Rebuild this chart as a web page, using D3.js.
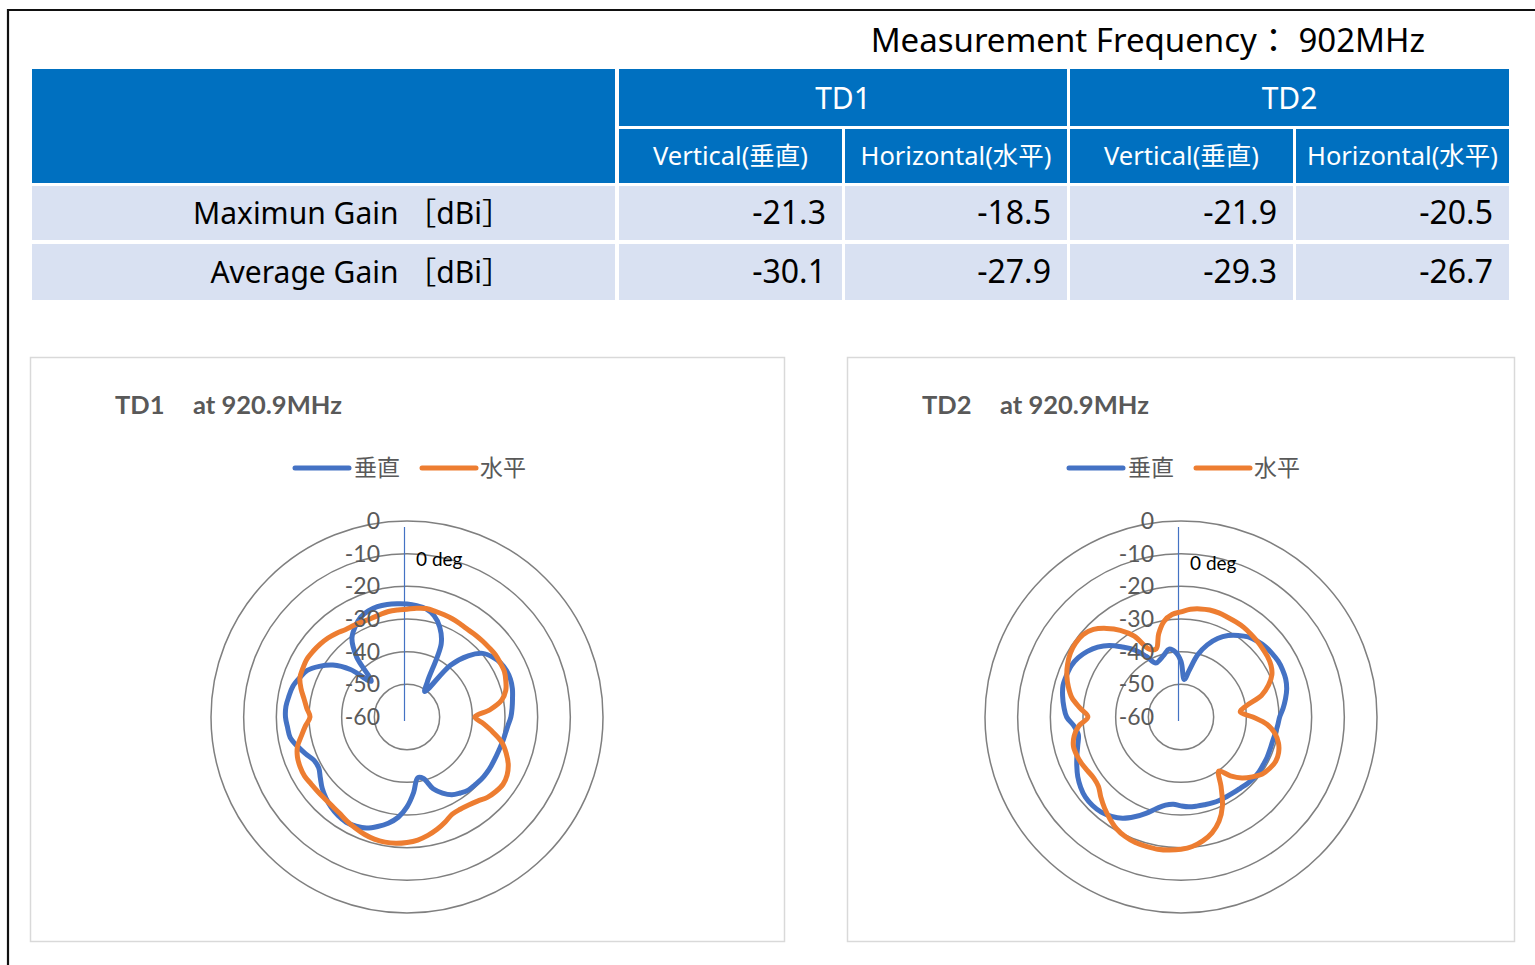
<!DOCTYPE html>
<html><head><meta charset="utf-8">
<script src="https://cdn.jsdelivr.net/npm/d3@7"></script>
<style>body{margin:0;background:#fff;overflow:hidden}</style>
</head><body>
<svg id="c" width="1535" height="965"></svg>
<script>
// ---------------- data ----------------
const angles = d3.range(0, 360, 5); // category angles (deg), clockwise from top
const td1Vertical = [
 -25.4,-25.8,-26.4,-27.9,-30.7,-35.2,-47.5,-50.5,-39.3,-33.5,-29.7,-28.0,
 -26.9,-26.4,-26.3,-26.6,-27.2,-27.7,-28.2,-29.0,-29.5,-29.8,-30.1,-30.2,
 -30.2,-30.2,-30.3,-30.6,-30.8,-31.6,-32.5,-34.3,-36.6,-40.5,-41.1,-36.8,
 -32.5,-29.2,-27.0,-25.3,-23.8,-23.1,-22.8,-23.2,-23.9,-24.9,-26.1,-27.6,
 -28.8,-28.6,-27.0,-25.3,-23.7,-23.3,-22.8,-22.8,-23.3,-23.8,-25.0,-26.3,
 -29.0,-32.3,-37.4,-44.5,-36.0,-30.6,-28.2,-26.3,-25.4,-25.0,-25.0,-25.2];
const td1Horizontal = [
 -27.0,-26.6,-26.3,-26.5,-26.7,-26.9,-27.2,-27.4,-27.3,-27.2,-27.1,-26.9,
 -27.0,-27.1,-27.8,-28.7,-30.6,-34.5,-39.2,-36.5,-33.3,-29.9,-27.7,-25.8,
 -24.6,-24.1,-24.5,-25.2,-26.4,-27.1,-27.4,-27.2,-25.8,-24.4,-23.2,-22.2,
 -21.6,-21.2,-21.1,-21.3,-21.8,-22.5,-23.2,-24.0,-24.4,-24.5,-24.4,-24.2,
 -23.8,-23.9,-24.3,-25.3,-27.2,-28.8,-30.3,-29.2,-28.0,-26.4,-25.1,-24.8,
 -24.6,-24.9,-25.3,-25.8,-26.5,-27.3,-27.6,-27.8,-27.9,-27.6,-27.2,-27.1];
const td2Vertical = [
 -43.0,-48.5,-45.5,-40.3,-36.5,-33.5,-31.2,-29.5,-28.0,-27.1,-26.4,-26.0,
 -25.7,-25.7,-25.9,-26.5,-27.5,-28.6,-29.8,-30.3,-30.7,-31.0,-31.0,-30.9,
 -30.9,-30.8,-30.9,-31.2,-31.6,-31.8,-31.9,-31.9,-32.0,-32.2,-32.3,-32.4,
 -32.8,-33.2,-32.6,-31.0,-28.6,-26.3,-24.2,-22.9,-22.0,-21.7,-21.8,-22.5,
 -23.5,-24.8,-26.1,-27.3,-28.1,-27.2,-25.0,-24.0,-23.2,-22.6,-22.7,-22.9,
 -23.7,-25.0,-26.7,-29.0,-32.0,-34.8,-38.5,-41.8,-41.3,-40.2,-38.9,-40.0];
const td2Horizontal = [
 -27.8,-26.9,-26.4,-26.1,-26.1,-26.3,-26.4,-26.5,-26.8,-27.1,-27.4,-27.7,
 -28.2,-29.3,-31.5,-34.5,-39.5,-41.8,-38.0,-33.5,-30.8,-29.1,-28.2,-28.0,
 -28.6,-29.6,-31.5,-33.6,-36.5,-39.8,-35.5,-30.0,-26.0,-23.3,-21.5,-20.2,
 -19.5,-19.1,-18.9,-19.0,-19.1,-19.6,-20.5,-22.0,-23.6,-25.3,-27.0,-27.4,
 -27.0,-26.4,-26.0,-25.9,-26.8,-28.6,-31.5,-29.0,-26.1,-24.3,-22.8,-21.7,
 -20.9,-20.6,-20.8,-22.1,-24.6,-27.6,-31.4,-37.1,-37.8,-33.6,-30.2,-28.5];

const headline = "Measurement Frequency： 902MHz";
const tableGroups = ["TD1", "TD2"];
const tableSubHeaders = ["Vertical(垂直)", "Horizontal(水平)", "Vertical(垂直)", "Horizontal(水平)"];
const rowLabels = ["Maximun Gain ［dBi］", "Average Gain ［dBi］"];
const maxGain = [-21.3, -18.5, -21.9, -20.5];
const avgGain = [-30.1, -27.9, -29.3, -26.7];
const radialTicks = [0, -10, -20, -30, -40, -50, -60];
const seriesNames = ["垂直", "水平"];
const chartNames = ["TD1", "TD2"];
const chartFreq = "at 920.9MHz";
const zeroLabel = "0 deg";

// ---------------- drawing ----------------
const svg = d3.select("#c");
const fmt = d3.formatLocale({decimal: ".", thousands: ",", grouping: [3], currency: ["", ""], minus: "-"}).format(".1f");
const TXT = "'Noto Sans','Noto Sans CJK JP',sans-serif";
const CHART_TXT = "Lato,'Noto Sans CJK JP',sans-serif";
const BLUE = "#4472C4", ORANGE = "#ED7D31", GREY = "#595959";

// outer frame
svg.append("path").attr("d", "M8,965 V10 H1535").attr("fill", "none").attr("stroke", "#111").attr("stroke-width", 2.2);

// headline
svg.append("text").attr("x", 1425).attr("y", 52).attr("text-anchor", "end")
  .style("font-family", TXT).style("font-size", "33px").attr("fill", "#000").text(headline);

// table
const colL = [619, 845, 1070, 1296], colR = [842, 1067, 1293, 1509];
const HEAD_BG = "#0070C0", ROW_BG = "#D9E1F2";
svg.append("rect").attr("x", 32).attr("y", 69).attr("width", 583).attr("height", 114).attr("fill", HEAD_BG);
tableGroups.forEach((t, i) => {
  const x0 = colL[i * 2], x1 = colR[i * 2 + 1];
  svg.append("rect").attr("x", x0).attr("y", 69).attr("width", x1 - x0).attr("height", 57).attr("fill", HEAD_BG);
  svg.append("text").attr("x", (x0 + x1) / 2).attr("y", 98).attr("dy", "0.35em").attr("text-anchor", "middle")
    .style("font-family", TXT).style("font-size", "30px").attr("fill", "#fff").text(t);
});
tableSubHeaders.forEach((t, i) => {
  svg.append("rect").attr("x", colL[i]).attr("y", 129).attr("width", colR[i] - colL[i]).attr("height", 54).attr("fill", HEAD_BG);
  svg.append("text").attr("x", (colL[i] + colR[i]) / 2).attr("y", 156).attr("dy", "0.35em").attr("text-anchor", "middle")
    .style("font-family", TXT).style("font-size", "25.5px").attr("fill", "#fff").text(t);
});
const rowsY = [[186, 240], [244, 300]];
[maxGain, avgGain].forEach((vals, r) => {
  const [y0, y1] = rowsY[r];
  svg.append("rect").attr("x", 32).attr("y", y0).attr("width", 583).attr("height", y1 - y0).attr("fill", ROW_BG);
  svg.append("text").attr("x", 512).attr("y", (y0 + y1) / 2).attr("dy", "0.35em").attr("text-anchor", "end")
    .style("font-family", TXT).style("font-size", "30px").attr("fill", "#000").text(rowLabels[r]);
  vals.forEach((v, i) => {
    svg.append("rect").attr("x", colL[i]).attr("y", y0).attr("width", colR[i] - colL[i]).attr("height", y1 - y0).attr("fill", ROW_BG);
    svg.append("text").attr("x", colR[i] - 16).attr("y", (y0 + y1) / 2).attr("dy", "0.35em").attr("text-anchor", "end")
      .style("font-family", TXT).style("font-size", "32px").attr("fill", "#000").text(fmt(v));
  });
});

// polar charts
function polar(cfg) {
  const {cx, cy, box, titleX, name, series, zeroY} = cfg;
  svg.append("rect").attr("x", box[0] + 0.5).attr("y", 357.5).attr("width", box[1] - box[0]).attr("height", 584)
    .attr("fill", "#fff").attr("stroke", "#d9d9d9").attr("stroke-width", 1.5);
  const t = svg.append("text").attr("y", 414).style("font-family", CHART_TXT).style("font-size", "25.5px")
    .style("font-weight", "bold").attr("fill", GREY);
  t.append("tspan").attr("x", titleX).text(name);
  t.append("tspan").attr("x", titleX + 78).text(chartFreq);

  // legend
  const legX = [[-112, -58, -53], [15, 69, 73]];
  seriesNames.forEach((s, i) => {
    const [a0, a1, tx] = legX[i];
    svg.append("line").attr("x1", cx + a0).attr("x2", cx + a1).attr("y1", cy - 249).attr("y2", cy - 249)
      .attr("stroke", i ? ORANGE : BLUE).attr("stroke-width", 5).attr("stroke-linecap", "round");
    svg.append("text").attr("x", cx + tx).attr("y", cy - 249).attr("dy", "0.36em")
      .style("font-family", "'Noto Sans CJK JP',sans-serif").style("font-size", "23px").attr("fill", GREY).text(s);
  });

  const g = svg.append("g").attr("transform", `translate(${cx},${cy})`);
  const r = d3.scaleLinear().domain([-60, 0]).range([0, 196]);
  const a = d3.scaleLinear().domain([0, 360]).range([0, 2 * Math.PI]);
  g.selectAll("circle.ring").data(radialTicks.filter(d => d > -60)).join("circle")
    .attr("class", "ring").attr("r", d => r(d)).attr("fill", "none").attr("stroke", "#7f7f7f").attr("stroke-width", 1.5);
  g.append("line").attr("x1", -2.5).attr("x2", -2.5).attr("y1", 4).attr("y2", -190)
    .attr("stroke", BLUE).attr("stroke-width", 1.2);
  g.append("text").attr("x", 9).attr("y", zeroY).attr("dy", "0.35em")
    .style("font-family", CHART_TXT).style("font-size", "19px").attr("fill", "#000").text(zeroLabel);

  const line = d3.lineRadial().angle(d => a(d[0])).radius(d => r(d[1]))
    .curve(d3.curveCatmullRomClosed.alpha(0.5));
  series.forEach((vals, i) => {
    g.append("path").attr("d", line(angles.map((ang, k) => [ang, vals[k]])))
      .attr("fill", "none").attr("stroke", i ? ORANGE : BLUE).attr("stroke-width", 5)
      .attr("stroke-linejoin", "round");
  });
  g.selectAll("text.tick").data(radialTicks).join("text").attr("class", "tick")
    .attr("x", -27).attr("y", d => -r(d)).attr("dy", "0.35em").attr("text-anchor", "end")
    .style("font-family", CHART_TXT).style("font-size", "23px").attr("fill", GREY).text(d => d3.format("d")(d).replace("−", "-"));
}

polar({cx: 407, cy: 717, box: [30, 784], titleX: 115, name: chartNames[0], series: [td1Vertical, td1Horizontal], zeroY: -158});
polar({cx: 1181, cy: 717, box: [847, 1514], titleX: 922, name: chartNames[1], series: [td2Vertical, td2Horizontal], zeroY: -154});
</script>
</body></html>
